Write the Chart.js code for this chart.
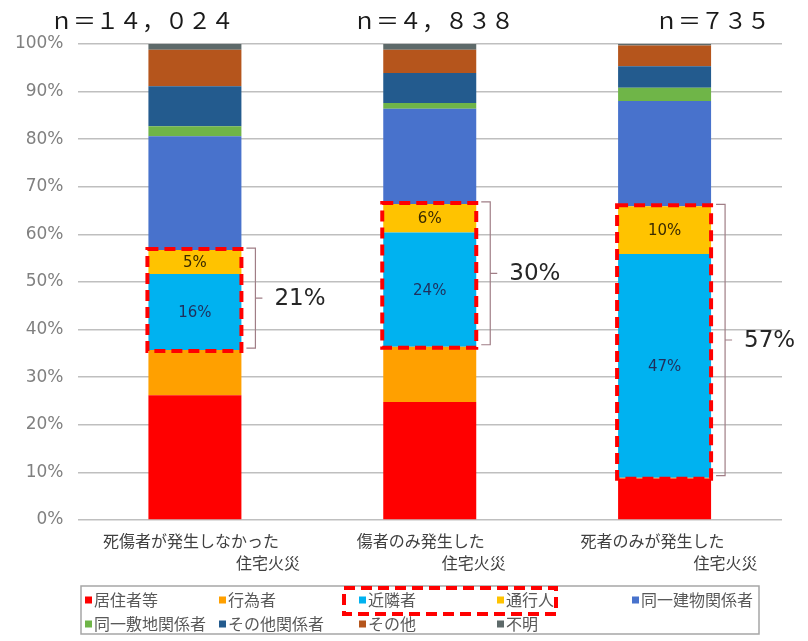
<!DOCTYPE html>
<html>
<head>
<meta charset="utf-8">
<script src="https://cdn.jsdelivr.net/npm/chart.js@4/dist/chart.umd.min.js"></script>
<style>
  html, body { margin: 0; padding: 0; background: #ffffff; }
  #wrap { width: 808px; height: 641px; }
</style>
</head>
<body>
<div id="wrap"><canvas id="c" width="808" height="641"></canvas></div>
<script>
// Categories (two-line labels) and sample sizes
const categories = [
  ['死傷者が発生しなかった', '住宅火災'],
  ['傷者のみ発生した', '住宅火災'],
  ['死者のみが発生した', '住宅火災']
];
const sampleSizes = [14024, 4838, 735];

// Series names in stacking order (bottom to top)
const seriesNames = ['居住者等', '行為者', '近隣者', '通行人', '同一建物関係者',
                     '同一敷地関係者', 'その他関係者', 'その他', '不明'];

// Shares (%) per category
const residents    = [26.2, 24.8, 8.7];
const perpetrators = [9.5, 11.6, 0.2];
const neighbours   = [16, 24, 47];
const passersby    = [5, 6, 10];
const sameBuilding = [23.9, 20.0, 22.1];
const samePremises = [2.1, 1.2, 2.8];
const otherRelated = [8.4, 6.3, 4.5];
const others       = [7.7, 4.9, 4.4];
const unknown      = [1.2, 1.2, 0.3];

// Y-axis tick values
const yTicks = [0, 10, 20, 30, 40, 50, 60, 70, 80, 90, 100];

const seriesValues = [residents, perpetrators, neighbours, passersby, sameBuilding,
                      samePremises, otherRelated, others, unknown];
const seriesColors = ['#FF0000', '#FFA000', '#00B2F0', '#FFC300', '#4872CC',
                      '#6FB548', '#235B8E', '#B5551C', '#5E6A6A'];

const NEIGHBOUR = 2, PASSERBY = 3;
const JP = "'Noto Sans CJK JP', 'Noto Sans', sans-serif";
const NUM = "'DejaVu Sans', sans-serif";

function toFullWidth(n) {
  const s = n.toLocaleString('en-US');
  let out = 'ｎ＝';
  for (const ch of s) {
    if (ch === ',') out += '，';
    else out += String.fromCharCode(ch.charCodeAt(0) + 0xFEE0);
  }
  return out;
}

// Text placement for header labels and wrapped category labels
const headerLeft = [50, 353, 655];
const headerBaseline = 29;
const catLine1Offset = [-92, -73, -84];
const catLine2Offset = [105, 76, 93];
const catLineY = [541, 563];

const overlay = {
  id: 'overlay',
  afterDatasetsDraw(chart) {
    const ctx = chart.ctx;
    const nb = chart.getDatasetMeta(NEIGHBOUR).data;
    const pb = chart.getDatasetMeta(PASSERBY).data;
    ctx.save();
    for (let i = 0; i < nb.length; i++) {
      const cyan = nb[i], yel = pb[i];
      const left = cyan.x - cyan.width / 2;
      const right = cyan.x + cyan.width / 2;
      const top = yel.y;
      const bottom = cyan.base;

      // value labels inside the highlighted segments
      ctx.font = '15px ' + NUM;
      ctx.textAlign = 'center';
      ctx.textBaseline = 'middle';
      ctx.fillStyle = '#1F2F5C';
      ctx.fillText(Math.round(neighbours[i]) + '%', cyan.x, (cyan.y + cyan.base) / 2 + 1);
      ctx.fillStyle = '#3A2A00';
      ctx.fillText(Math.round(passersby[i]) + '%', yel.x, (yel.y + yel.base) / 2 + 1);

      // dashed outline around the two segments
      ctx.strokeStyle = '#FF0000';
      ctx.lineWidth = 4;
      ctx.setLineDash([11, 6]);
      ctx.strokeRect(left - 1, top - 1, right - left + 1, bottom - top + 2);
      ctx.setLineDash([]);

      // bracket with combined share
      const bx0 = right + 5, bxv = right + 14;
      const bTop = top - 2, bBot = bottom - 2, bMid = (bTop + bBot) / 2;
      ctx.strokeStyle = '#A07E86';
      ctx.lineWidth = 1.2;
      ctx.beginPath();
      ctx.moveTo(bx0, bTop); ctx.lineTo(bxv, bTop); ctx.lineTo(bxv, bBot); ctx.lineTo(bx0, bBot);
      ctx.moveTo(bxv, bMid); ctx.lineTo(bxv + 7, bMid);
      ctx.stroke();
      ctx.font = '23px ' + NUM;
      ctx.textAlign = 'left';
      ctx.fillStyle = '#262626';
      ctx.fillText(Math.round(neighbours[i] + passersby[i]) + '%', bxv + 19, bMid + 1);
    }
    ctx.restore();
  },
  afterDraw(chart) {
    const ctx = chart.ctx;
    const xs = chart.scales.x;
    ctx.save();

    // sample sizes above the bars
    ctx.font = '23px ' + JP;
    ctx.fillStyle = '#1A1A1A';
    ctx.textAlign = 'left';
    ctx.textBaseline = 'alphabetic';
    sampleSizes.forEach((n, i) => ctx.fillText(toFullWidth(n), headerLeft[i], headerBaseline));

    // category labels, wrapped on two lines
    ctx.font = '16px ' + JP;
    ctx.fillStyle = '#404040';
    ctx.textBaseline = 'middle';
    categories.forEach((lines, i) => {
      const cx = xs.getPixelForValue(i);
      ctx.textAlign = 'left';
      ctx.fillText(lines[0], cx + catLine1Offset[i], catLineY[0]);
      ctx.textAlign = 'right';
      ctx.fillText(lines[1], cx + catLine2Offset[i], catLineY[1]);
    });

    // legend panel
    ctx.strokeStyle = '#A6A6A6';
    ctx.lineWidth = 1.5;
    ctx.strokeRect(81, 586, 678, 48);
    const cols = [85, 219, 359, 497, 632];
    const rows = [600, 624];
    ctx.font = '16px ' + JP;
    ctx.textAlign = 'left';
    ctx.textBaseline = 'middle';
    chart.data.datasets.forEach((ds, k) => {
      const x = cols[k % 5], y = rows[Math.floor(k / 5)];
      ctx.fillStyle = ds.backgroundColor;
      ctx.fillRect(x, y - 3.5, 7, 7);
      ctx.fillStyle = '#595959';
      ctx.fillText(ds.label, x + 9, y);
    });
    // highlight around 近隣者 / 通行人 entries
    ctx.strokeStyle = '#FF0000';
    ctx.lineWidth = 4;
    ctx.setLineDash([11, 6]);
    ctx.strokeRect(344, 588, 212, 26);
    ctx.setLineDash([]);
    ctx.restore();
  }
};

new Chart(document.getElementById('c'), {
  type: 'bar',
  data: {
    labels: categories,
    datasets: seriesNames.map((name, k) => ({
      label: name,
      data: seriesValues[k],
      backgroundColor: seriesColors[k],
      borderWidth: 0,
      categoryPercentage: 1,
      barPercentage: 0.396
    }))
  },
  options: {
    responsive: false,
    animation: false,
    devicePixelRatio: 1,
    layout: { padding: { left: 0, right: 26, top: 44, bottom: 121 } },
    plugins: { legend: { display: false }, tooltip: { enabled: false } },
    scales: {
      x: { stacked: true, display: false },
      y: {
        stacked: true,
        min: 0, max: 100,
        afterBuildTicks(scale) { scale.ticks = yTicks.map(v => ({ value: v })); },
        afterFit(scale) { scale.width = 77.5; },
        ticks: {
          padding: 14,
          color: '#808080',
          font: { family: NUM, size: 17 },
          callback: v => v + '%'
        },
        grid: { color: '#BFBFBF', lineWidth: 1.5, drawTicks: false },
        border: { display: false }
      }
    }
  },
  plugins: [overlay]
});
</script>
</body>
</html>
